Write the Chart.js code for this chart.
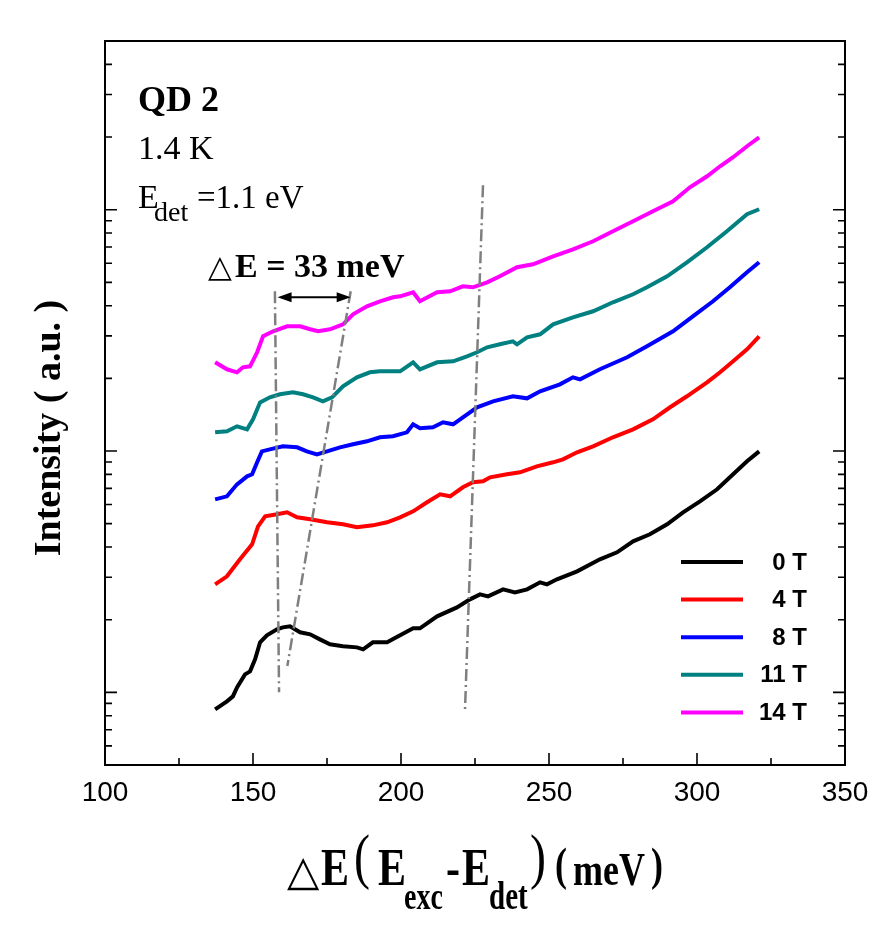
<!DOCTYPE html>
<html>
<head>
<meta charset="utf-8">
<script src="https://cdn.jsdelivr.net/npm/chart.js@4.4.0/dist/chart.umd.min.js"></script>
<style>
  html, body { margin: 0; padding: 0; background: #fff; }
  #wrap { width: 880px; height: 928px; }
</style>
</head>
<body>
<div id="wrap"><canvas id="myChart"></canvas></div>
<script>
// Datos (x en meV, intensidad en u.a., eje log)
const x0T = [137.2,141.2,143.2,144.6,147.3,149.0,150.7,152.4,154.7,158.1,160.1,162.5,165.9,169.3,172.6,176.0,180.4,185.1,187.2,190.5,195.3,199.7,204.1,206.4,212.2,218.9,223.3,226.7,229.4,234.5,238.5,242.6,247.0,249.3,252.7,259.5,267.2,273.0,278.4,284.1,289.9,295.3,301.0,306.8,312.2,316.9,321.0];
const y0T = [0.850,0.918,0.962,1.049,1.187,1.222,1.370,1.612,1.723,1.824,1.859,1.877,1.773,1.740,1.658,1.581,1.551,1.536,1.507,1.612,1.612,1.723,1.842,1.842,2.065,2.250,2.429,2.547,2.499,2.672,2.597,2.672,2.857,2.803,2.940,3.172,3.558,3.804,4.225,4.517,4.969,5.572,6.187,6.939,8.008,9.065,9.97];

const x4T = [137.2,141.2,145.6,149.7,151.7,154.1,158.1,161.5,164.9,169.3,175.0,180.4,185.1,190.5,195.3,199.7,204.1,208.8,213.2,216.6,220.9,224.3,227.7,230.1,235.8,240.2,245.9,251.4,254.7,259.5,264.9,271.6,278.4,285.1,290.9,296.6,303.4,307.8,312.2,316.9,321.0];
const y4T = [2.803,3.025,3.558,4.106,4.875,5.363,5.466,5.572,5.311,5.212,5.065,4.969,4.829,4.921,5.065,5.311,5.625,6.130,6.616,6.491,7.073,7.418,7.488,7.781,8.006,8.161,8.642,8.979,9.240,9.876,10.46,11.40,12.30,13.53,15.18,16.86,19.26,21.19,23.54,26.40,29.88];

const x8T = [137.2,141.2,144.6,148.0,149.7,151.4,153.0,155.7,160.1,164.9,168.2,171.6,175.0,179.4,183.8,188.5,192.9,197.3,202.0,204.1,206.4,210.8,214.2,217.6,223.3,225.7,231.1,237.8,242.6,247.0,253.7,258.1,260.5,267.2,276.4,283.1,291.9,298.6,305.4,311.1,316.9,321.0];
const y8T = [6.306,6.491,7.278,7.854,8.006,8.979,9.97,10.16,10.46,10.36,9.97,9.690,9.97,10.36,10.66,10.97,11.40,11.51,11.95,12.90,12.42,12.54,13.15,12.90,14.47,15.18,16.07,16.86,16.53,17.68,18.90,20.20,19.82,21.81,24.45,27.16,31.34,36.16,41.73,47.69,55.04,60.55];

const x11T = [137.2,141.2,144.6,148.0,150.0,152.4,155.7,159.1,163.5,166.9,170.3,173.6,176.7,180.4,185.1,189.5,192.9,196.3,199.7,204.1,206.4,212.2,217.6,222.3,225.7,229.1,233.4,237.8,239.2,242.6,247.0,251.4,258.1,264.9,271.6,278.4,283.1,289.9,296.6,303.4,310.1,316.9,321.0];
const y11T = [11.95,12.07,12.66,12.30,13.53,15.91,16.69,17.18,17.51,17.18,16.69,16.07,16.69,18.54,20.20,21.19,21.40,21.40,21.40,23.31,21.81,23.31,23.54,24.69,25.65,26.90,27.68,28.48,27.68,29.59,30.45,33.50,35.82,37.93,41.33,44.61,47.69,52.97,60.55,69.87,81.39,95.72,100.4];

const x14T = [137.2,141.2,144.6,146.6,149.0,151.4,153.4,156.8,161.5,165.9,169.3,172.0,176.0,180.4,183.8,188.5,192.9,197.3,199.7,204.1,206.4,212.2,216.6,220.9,224.3,229.1,233.4,239.2,244.6,251.4,258.1,264.9,271.6,278.4,285.1,291.9,297.6,303.4,307.8,312.2,316.9,321.0];
const y14T = [23.31,21.81,21.19,22.23,22.44,25.65,29.88,31.34,32.87,32.87,31.95,31.34,31.95,33.50,36.87,39.78,41.73,43.36,43.76,45.47,41.73,45.47,45.90,48.13,47.69,50.02,52.97,57.73,59.38,64.11,68.55,73.99,81.39,89.51,98.49,108.4,123.8,137.5,151.3,164.9,183.2,199.5];

// lineas guia (punto-raya) y flecha de 33 meV
const guideAX = [157.4, 158.8], guideAY = [45.9, 1.0];
const guideBX = [183.0, 161.6], guideBY = [45.9, 1.285];
const guideCX = [227.7, 221.6], guideCY = [126.2, 0.83];
const arrowX = [158.3, 183.0], arrowY = [43.4, 43.4];

const seriesLabels = ['0 T', '4 T', '8 T', '11 T', '14 T'];
const seriesColors = ['#000000', '#ff0000', '#0000ff', '#008080', '#ff00ff'];

const xTickLabels = [100, 150, 200, 250, 300, 350];
const xMinorTicks = [125, 175, 225, 275, 325];
const yMajorTicks = [1, 10, 100];
const yMinorTicks = [0.6,0.7,0.8,0.9,2,3,4,5,6,7,8,9,20,30,40,50,60,70,80,90,200,300,400];

function toPoints(xs, ys) {
    return xs.map((x, i) => ({ x: x, y: ys[i] }));
}

const curveData = [toPoints(x0T, y0T), toPoints(x4T, y4T), toPoints(x8T, y8T), toPoints(x11T, y11T), toPoints(x14T, y14T)];

const curveSets = curveData.map((d, i) => ({
    label: seriesLabels[i],
    data: d,
    borderColor: seriesColors[i],
    borderWidth: 4,
    pointRadius: 0,
    tension: 0,
    fill: false,
    order: 1
}));

const guideSets = [[guideAX, guideAY], [guideBX, guideBY], [guideCX, guideCY]].map(g => ({
    label: '',
    data: toPoints(g[0], g[1]),
    borderColor: '#7f7f7f',
    borderWidth: 2.5,
    borderDash: [12, 4, 2, 4],
    pointRadius: 0,
    fill: false,
    order: 0
}));

const serif = '"Liberation Serif", "Times New Roman", serif';

function piece(ctx, text, x, y, font, sy) {
    ctx.save();
    ctx.translate(x, y);
    ctx.scale(1, sy);
    ctx.font = font;
    ctx.fillText(text, 0, 0);
    ctx.restore();
}

const decorPlugin = {
    id: 'decor',
    afterDraw(chart) {
        const ctx = chart.ctx;
        const area = chart.chartArea;
        const xs = chart.scales.x;
        const ys = chart.scales.y;
        ctx.save();

        // marco y marcas hacia dentro
        ctx.strokeStyle = '#000';
        ctx.lineWidth = 2;
        ctx.strokeRect(area.left, area.top, area.right - area.left, area.bottom - area.top);
        ctx.lineWidth = 1.6;
        const yTick = (v, len) => {
            const py = ys.getPixelForValue(v);
            ctx.beginPath();
            ctx.moveTo(area.left, py); ctx.lineTo(area.left + len, py);
            ctx.moveTo(area.right, py); ctx.lineTo(area.right - len, py);
            ctx.stroke();
        };
        yMajorTicks.forEach(v => yTick(v, 12));
        yMinorTicks.forEach(v => yTick(v, 7));
        const xTick = (v, len) => {
            const px = xs.getPixelForValue(v);
            ctx.beginPath();
            ctx.moveTo(px, area.bottom); ctx.lineTo(px, area.bottom - len);
            ctx.stroke();
        };
        xTickLabels.slice(1, -1).forEach(v => xTick(v, 12));
        xMinorTicks.forEach(v => xTick(v, 7));

        // flecha doble
        const ax1 = xs.getPixelForValue(arrowX[0]);
        const ax2 = xs.getPixelForValue(arrowX[1]);
        const ay = ys.getPixelForValue(arrowY[0]);
        ctx.lineWidth = 2;
        ctx.beginPath();
        ctx.moveTo(ax1 + 8, ay); ctx.lineTo(ax2 - 8, ay);
        ctx.stroke();
        ctx.fillStyle = '#000';
        ctx.beginPath();
        ctx.moveTo(ax1, ay); ctx.lineTo(ax1 + 14, ay - 5); ctx.lineTo(ax1 + 14, ay + 5); ctx.closePath();
        ctx.moveTo(ax2, ay); ctx.lineTo(ax2 - 14, ay - 5); ctx.lineTo(ax2 - 14, ay + 5); ctx.closePath();
        ctx.fill();

        // textos dentro del grafico
        ctx.textAlign = 'left';
        ctx.textBaseline = 'alphabetic';
        ctx.font = 'bold 36px ' + serif;
        ctx.fillText('QD 2', 138, 111);
        ctx.font = '34px ' + serif;
        ctx.fillText('1.4 K', 138, 159);
        ctx.fillText('E', 138, 208);
        ctx.font = '28px ' + serif;
        ctx.fillText('det', 154, 221);
        ctx.font = '33px ' + serif;
        ctx.fillText('=1.1 eV', 197, 208);

        ctx.font = '31px "DejaVu Sans"';
        ctx.fillText('\u25B3', 208, 277);
        ctx.font = 'bold 34px ' + serif;
        ctx.fillText('E = 33 meV', 235, 277);

        // leyenda (solo las curvas)
        chart.data.datasets.filter(ds => ds.label).forEach((ds, i) => {
            const ly = 562 + i * 37.6;
            ctx.strokeStyle = ds.borderColor;
            ctx.lineWidth = 4;
            ctx.beginPath();
            ctx.moveTo(681, ly); ctx.lineTo(743, ly);
            ctx.stroke();
            ctx.fillStyle = '#000';
            ctx.font = 'bold 24px "Liberation Sans", Arial, sans-serif';
            ctx.textAlign = 'right';
            ctx.textBaseline = 'middle';
            ctx.fillText(ds.label, 807, ly + 1);
        });

        // titulo eje y
        ctx.fillStyle = '#000';
        ctx.save();
        ctx.translate(60, 428);
        ctx.rotate(-Math.PI / 2);
        ctx.textAlign = 'center';
        ctx.textBaseline = 'alphabetic';
        ctx.font = 'bold 38px ' + serif;
        ctx.fillText('Intensity ( a.u. )', 0, 0);
        ctx.restore();

        // titulo eje x con subindices
        ctx.textAlign = 'left';
        ctx.textBaseline = 'alphabetic';
        piece(ctx, '\u25B3', 287, 885, '42px "DejaVu Sans"', 1.0);
        piece(ctx, 'E', 321, 885, 'bold 42px ' + serif, 1.28);
        piece(ctx, '(', 354, 877, '48px ' + serif, 1.28);
        piece(ctx, 'E', 378, 885, 'bold 42px ' + serif, 1.28);
        piece(ctx, 'exc', 404, 909, 'bold 28px ' + serif, 1.35);
        piece(ctx, '-', 446, 885, 'bold 42px ' + serif, 1.28);
        piece(ctx, 'E', 462, 885, 'bold 42px ' + serif, 1.28);
        piece(ctx, 'det', 489, 909, 'bold 29px ' + serif, 1.35);
        piece(ctx, ')', 530, 877, '48px ' + serif, 1.28);
        piece(ctx, '(', 555, 880, 'bold 36px ' + serif, 1.28);
        piece(ctx, 'meV', 573, 885, 'bold 36px ' + serif, 1.28);
        piece(ctx, ')', 651, 880, 'bold 36px ' + serif, 1.28);

        ctx.restore();
    }
};

const ctx = document.getElementById('myChart').getContext('2d');

const myChart = new Chart(ctx, {
    type: 'line',
    data: { datasets: guideSets.concat(curveSets) },
    options: {
        responsive: true,
        maintainAspectRatio: false,
        animation: false,
        events: [],
        layout: { padding: { left: 105, right: 35, top: 41, bottom: 113 } },
        plugins: {
            legend: { display: false },
            tooltip: { enabled: false }
        },
        scales: {
            x: {
                type: 'linear',
                min: 100,
                max: 350,
                afterBuildTicks: axis => { axis.ticks = xTickLabels.map(v => ({ value: v })); },
                afterFit: axis => { axis.height = 50; },
                ticks: {
                    color: '#000',
                    font: { family: 'Liberation Sans', size: 28 },
                    padding: 11,
                    maxRotation: 0,
                    autoSkip: false
                },
                grid: { display: false, drawTicks: false },
                border: { display: false }
            },
            y: {
                type: 'logarithmic',
                min: 0.5,
                max: 500,
                afterFit: axis => { axis.width = 0; },
                ticks: { display: false },
                grid: { display: false, drawTicks: false },
                border: { display: false }
            }
        }
    },
    plugins: [decorPlugin]
});
</script>
</body>
</html>
